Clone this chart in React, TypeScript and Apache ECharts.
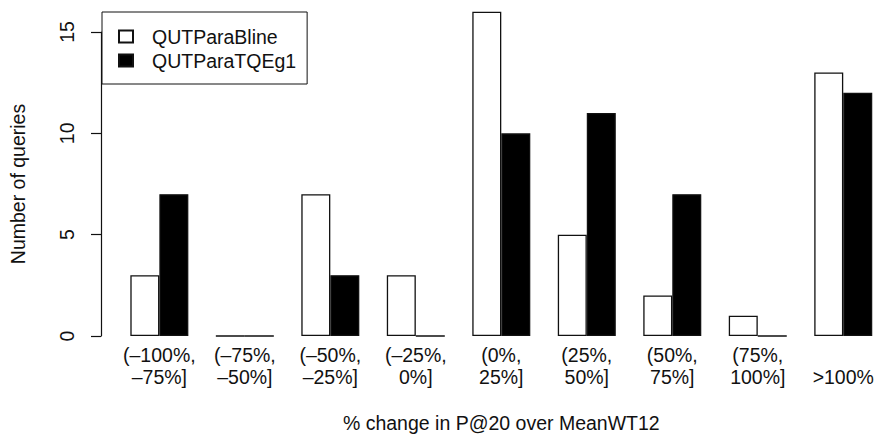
import React, { useEffect, useRef } from "react";
import * as echarts from "echarts";

const categories = [
  "(–100%,\n–75%]",
  "(–75%,\n–50%]",
  "(–50%,\n–25%]",
  "(–25%,\n0%]",
  "(0%,\n25%]",
  "(25%,\n50%]",
  "(50%,\n75%]",
  "(75%,\n100%]",
  "\n>100%",
];
const seriesNames = ["QUTParaBline", "QUTParaTQEg1"];
const blineValues = [3, 0, 7, 3, 16, 5, 2, 1, 13];
const tqegValues = [7, 0, 3, 0, 10, 11, 7, 0, 12];
const xTitle = "% change in P@20 over MeanWT12";
const yTitle = "Number of queries";

const FONT = "'Liberation Sans', Arial, Helvetica, sans-serif";
const INK = "#111";
const FS = 19.5;

export default function App() {
  const ref = useRef<HTMLDivElement>(null);
  useEffect(() => {
    if (!ref.current) return;
    const chart = echarts.init(ref.current, null, { renderer: "svg" });
    chart.setOption({
      animation: false,
      backgroundColor: "#fff",
      textStyle: { fontFamily: FONT, color: INK },
      grid: { left: 116.6, top: 32, width: 780.75, bottom: 97, containLabel: false },
      legend: {
        orient: "vertical",
        left: 102,
        top: 12,
        padding: [14.5, 11, 13.5, 16],
        itemGap: 4,
        itemWidth: 14,
        itemHeight: 12,
        borderColor: INK,
        borderWidth: 1,
        backgroundColor: "#fff",
        icon: "rect",
        textStyle: { fontSize: FS, fontFamily: FONT, color: INK, padding: [0, 0, 0, 14] },
        data: seriesNames,
      },
      xAxis: {
        type: "category",
        data: categories,
        axisLine: { show: false },
        axisTick: { show: false },
        axisLabel: {
          interval: 0,
          fontSize: FS,
          lineHeight: 22,
          margin: 8,
          color: INK,
          fontFamily: FONT,
        },
        name: xTitle,
        nameLocation: "middle",
        nameGap: 77,
        nameTextStyle: { fontSize: FS, color: INK, fontFamily: FONT },
      },
      yAxis: {
        type: "value",
        min: 0,
        max: 15,
        interval: 5,
        offset: 15.6,
        axisLine: { show: true, lineStyle: { color: INK, width: 1.2 } },
        axisTick: { show: true, length: 10, lineStyle: { color: INK, width: 1.2 } },
        splitLine: { show: false },
        axisLabel: {
          rotate: 90,
          fontSize: FS,
          margin: 24,
          color: INK,
          fontFamily: FONT,
        },
        name: yTitle,
        nameLocation: "middle",
        nameRotate: 90,
        nameGap: 73,
        nameTextStyle: { fontSize: FS, color: INK, fontFamily: FONT },
      },
      series: [
        {
          name: seriesNames[0],
          type: "bar",
          data: blineValues,
          barWidth: 29,
          barGap: "0%",
          clip: false,
          itemStyle: { color: "#fff", borderColor: INK, borderWidth: 1.3 },
        },
        {
          name: seriesNames[1],
          type: "bar",
          data: tqegValues,
          barWidth: 29,
          barGap: "0%",
          clip: false,
          itemStyle: { color: "#000", borderColor: INK, borderWidth: 1.3 },
        },
      ],
    });
    return () => chart.dispose();
  }, []);
  return (
    <div
      ref={ref}
      style={{ position: "absolute", left: 0, top: 0, width: 886, height: 438 }}
    />
  );
}
